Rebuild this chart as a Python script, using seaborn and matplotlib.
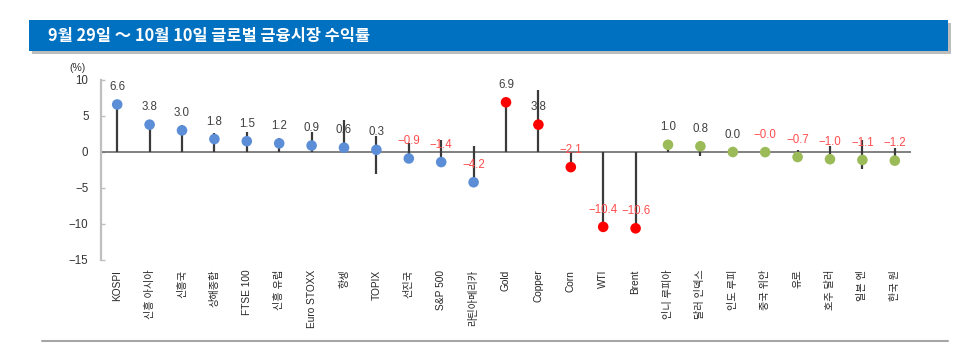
import matplotlib
matplotlib.use("Agg")
import matplotlib.pyplot as plt
import matplotlib.patches as mpatches
import seaborn as sns
import pandas as pd
import numpy as np

# ---- data ----
categories = ["KOSPI", "신흥 아시아", "신흥국", "상해종합", "FTSE 100", "신흥 유럽",
              "Euro STOXX", "항셍", "TOPIX", "선진국", "S&P 500", "라틴아메리카",
              "Gold", "Copper", "Corn", "WTI", "Brent",
              "인니 루피아", "달러 인덱스", "인도 루피", "중국 위안", "유로",
              "호주 달러", "일본 엔", "한국 원"]
returns = [6.6, 3.8, 3.0, 1.8, 1.5, 1.2, 0.9, 0.6, 0.3, -0.9, -1.4, -4.2,
           6.9, 3.8, -2.1, -10.4, -10.6,
           1.0, 0.8, 0.0, -0.02, -0.7, -1.0, -1.1, -1.2]
range_low = [0, 0, 0, 0, 0, 0, 0, 0, -3.1, -0.9, -1.4, -4.2,
             0, 0, -2.1, -10.4, -10.6,
             0, -0.6, 0, 0, -0.7, -1.0, -2.3, -1.2]
range_high = [6.6, 4.5, 3.7, 2.7, 2.8, 2.0, 2.8, 4.4, 2.2, 1.3, 1.7, 0.9,
              7.4, 8.6, 0, 0, 0,
              1.0, 0.8, 0, 0, 0.3, 0.9, 1.7, 0.5]
groups = ["주식"] * 12 + ["원자재"] * 5 + ["통화"] * 8
group_colors = {"주식": "#5B8ED6", "원자재": "#FF0000", "통화": "#9BBB59"}
title = "9월 29일 ～ 10월 10일 글로벌 금융시장 수익률"
yticks = [10, 5, 0, -5, -10, -15]

df = pd.DataFrame({"cat": categories, "ret": returns, "lo": range_low,
                   "hi": range_high, "grp": groups})
df["x"] = np.arange(len(df))

sns.set_theme(style="white")
plt.rcParams["font.family"] = ["Liberation Sans", "Noto Sans CJK KR", "DejaVu Sans"]
plt.rcParams["axes.unicode_minus"] = True

fig = plt.figure(figsize=(9.66, 3.45), dpi=100)
fig.patch.set_facecolor("white")

# title bar with shadow
shadow = mpatches.Rectangle((32 / 966, 1 - 54 / 345), 919 / 966, 31 / 345,
                            transform=fig.transFigure, facecolor="#BDBDBD",
                            edgecolor="none", zorder=0)
bar = mpatches.Rectangle((29 / 966, 1 - 51 / 345), 919 / 966, 31 / 345,
                         transform=fig.transFigure, facecolor="#0070C0",
                         edgecolor="none", zorder=1)
fig.patches.extend([shadow, bar])
fig.text(48 / 966, 1 - 35.5 / 345, title, color="white", fontsize=11.8,
         fontweight="bold", va="center", ha="left",
         family=["Noto Sans CJK KR", "DejaVu Sans"], zorder=2)

# bottom rule
fig.add_artist(plt.Line2D([42 / 966, 948 / 966], [1 - 341 / 345, 1 - 341 / 345],
                          transform=fig.transFigure, color="#A6A6A6", lw=1.5))

ax = fig.add_axes([101 / 966, 85 / 345, 810 / 966, 180 / 345])

# range lines
ax.vlines(df["x"], df["lo"], df["hi"], color="#3A3A3A", lw=1.6, zorder=2)
ax.axhline(0, color="#6B6B6B", lw=1.2, zorder=1)

sns.scatterplot(data=df, x="x", y="ret", hue="grp", palette=group_colors,
                s=58, edgecolor="none", legend=False, ax=ax, zorder=3)

for xi, v in zip(df["x"], df["ret"]):
    txt = f"{v:.1f}".replace("-", "−")
    col = "#FF4D4D" if v < 0 else "#404040"
    ax.annotate(txt, (xi, v), xytext=(0, 12.5), textcoords="offset points",
                ha="center", va="center", fontsize=8.3, color=col, zorder=4)

ax.set_xlim(-0.5, len(df) - 0.5)
ax.set_ylim(-15, 10)
ax.set_yticks(yticks)
ax.set_yticklabels([str(t).replace("-", "−") for t in yticks])
ax.set_xticks(df["x"])
ax.set_xticklabels(df["cat"], rotation=90, ha="center", va="top", fontsize=7.3,
                   color="#262626")
ax.set_xlabel("")
ax.set_ylabel("")
for s in ["top", "right", "bottom"]:
    ax.spines[s].set_visible(False)
ax.spines["left"].set_color("#BFBFBF")
ax.spines["left"].set_linewidth(1.6)
ax.tick_params(axis="y", direction="in", length=3, width=1, color="#BFBFBF",
               labelsize=8.3, labelcolor="#333333", pad=9, left=True)
ax.tick_params(axis="x", length=0, pad=7)
ax.grid(False)

fig.text(78 / 966, 1 - 68 / 345, "(%)", fontsize=7.5, color="#333333",
         ha="center", va="center")

fig.savefig("out.png", dpi=100)
